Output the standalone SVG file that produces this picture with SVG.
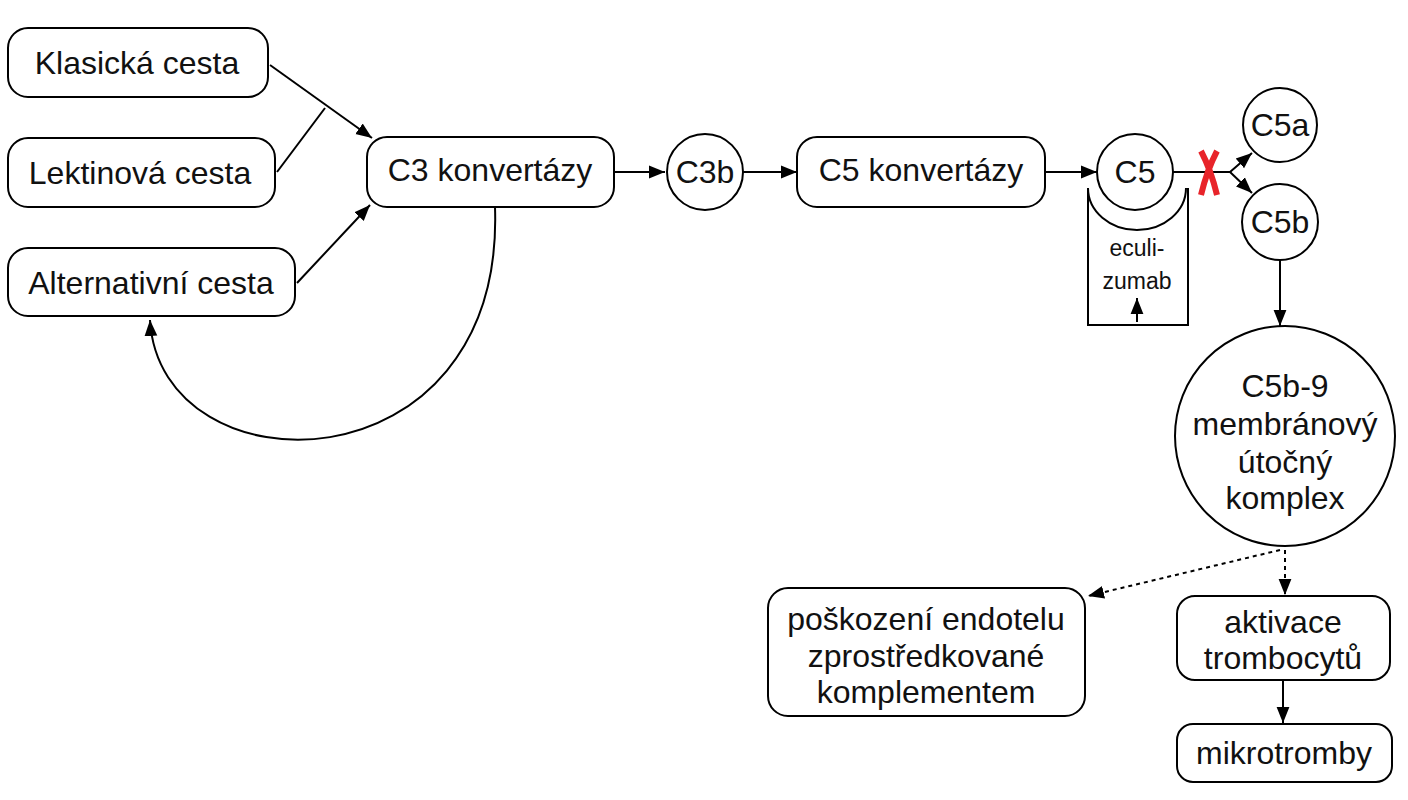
<svg xmlns="http://www.w3.org/2000/svg" width="1408" height="800" viewBox="0 0 1408 800">
<defs>
<marker id="ahl" viewBox="0 0 10 10" refX="10" refY="5" markerWidth="16" markerHeight="16" markerUnits="userSpaceOnUse" orient="auto"><path d="M0,1L10,5L0,9z" fill="#000"/></marker>
</defs>
<style>
.n{fill:#fff;stroke:#000;stroke-width:2}
.t{font-family:"Liberation Sans",Arial,sans-serif;font-size:32px;fill:#111;text-anchor:middle;dominant-baseline:central}
.s{font-size:23px}
.c{fill:none;stroke:#000;stroke-width:2}
.d{stroke-dasharray:4 4}
</style>
<rect width="1408" height="800" fill="#fff"/>
<g id="connectors">
<path class="c" d="M270,65L372,138" marker-end="url(#ahl)"/>
<path class="c" d="M277,172L325,108"/>
<path class="c" d="M297,283L370,205" marker-end="url(#ahl)"/>
<path class="c" d="M614,172L665,172" marker-end="url(#ahl)"/>
<path class="c" d="M743,172L797,172" marker-end="url(#ahl)"/>
<path class="c" d="M1045,172L1097,172" marker-end="url(#ahl)"/>
<path class="c" d="M495,207C505,495 160,495 150,320" marker-end="url(#ahl)"/>
<path class="c" d="M1173,172L1230,172L1252,153" marker-end="url(#ahl)"/>
<path class="c" d="M1230,172L1252,193" marker-end="url(#ahl)"/>
<path class="c" d="M1280,260L1280,326" marker-end="url(#ahl)"/>
<path class="c d" d="M1280,550L1088,596" marker-end="url(#ahl)"/>
<path class="c d" d="M1285,550L1285,595" marker-end="url(#ahl)"/>
<path class="c" d="M1283,680L1283,723" marker-end="url(#ahl)"/>
<path class="c" d="M1088,188L1088,325L1188,325L1188,188"/>
<path class="c" d="M1088,188A49,42 0 0 0 1186,188"/>
<path class="c" d="M1137,322L1137,298" marker-end="url(#ahl)"/>
</g>
<g id="c3konv"><rect class="n" x="367" y="137" width="247" height="70" rx="20"/><text class="t" x="490" y="170">C3 konvertázy</text></g>
<g id="klasicka"><rect class="n" x="8" y="28" width="260" height="69" rx="20"/><text class="t" x="137" y="63">Klasická cesta</text></g>
<g id="lektinova"><rect class="n" x="8" y="138" width="267" height="69" rx="20"/><text class="t" x="140" y="173">Lektinová cesta</text></g>
<g id="alternativni"><rect class="n" x="8" y="248" width="287" height="68" rx="20"/><text class="t" x="151" y="283">Alternativní cesta</text></g>
<g id="c3b"><circle class="n" cx="705" cy="172" r="38"/><text class="t" x="705" y="172">C3b</text></g>
<g id="c5konv"><rect class="n" x="797" y="137" width="248" height="70" rx="20"/><text class="t" x="921" y="170">C5 konvertázy</text></g>
<g id="c5"><circle class="n" cx="1135" cy="172" r="38"/><text class="t" x="1135" y="172">C5</text></g>
<g id="eculizumab"><text class="t s" x="1137" y="248">eculi-</text><text class="t s" x="1137" y="281">zumab</text></g>
<g id="block"><path d="M1201,151Q1211,170 1217,195M1217,151Q1207,170 1201,195" stroke="#e8242a" stroke-width="6" fill="none"/></g>
<g id="c5a"><circle class="n" cx="1280" cy="125" r="37"/><text class="t" x="1280" y="125">C5a</text></g>
<g id="c5b"><circle class="n" cx="1280" cy="222" r="38"/><text class="t" x="1280" y="222">C5b</text></g>
<g id="mac"><circle class="n" cx="1285" cy="436" r="110"/><text class="t" x="1285" y="386">C5b-9</text><text class="t" x="1285" y="424">membránový</text><text class="t" x="1285" y="462">útočný</text><text class="t" x="1285" y="498">komplex</text></g>
<g id="poskozeni"><rect class="n" x="768" y="588" width="317" height="128" rx="20"/><text class="t" x="926" y="619">poškození endotelu</text><text class="t" x="926" y="656">zprostředkované</text><text class="t" x="926" y="692">komplementem</text></g>
<g id="aktivace"><rect class="n" x="1177" y="596" width="213" height="84" rx="18"/><text class="t" x="1283" y="622">aktivace</text><text class="t" x="1283" y="658">trombocytů</text></g>
<g id="mikrotromby"><rect class="n" x="1177" y="724" width="215" height="58" rx="16"/><text class="t" x="1284" y="753">mikrotromby</text></g>
</svg>
